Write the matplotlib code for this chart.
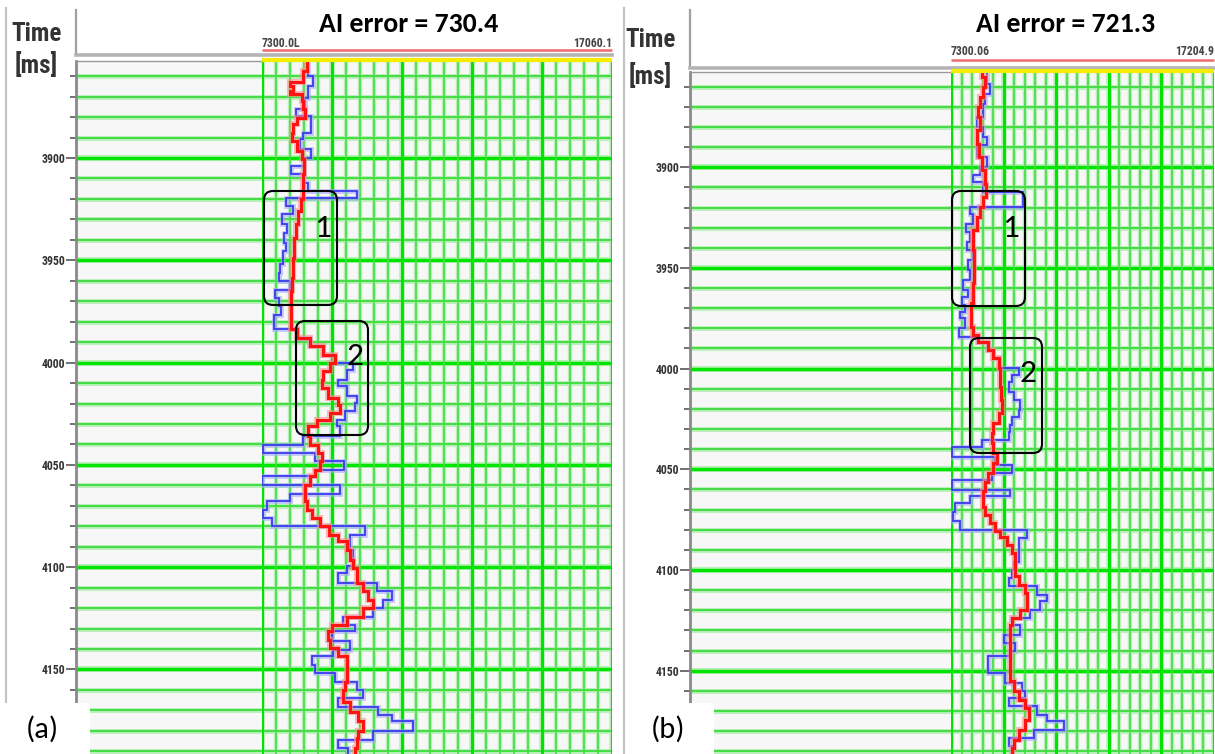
import matplotlib
matplotlib.use("Agg")
import matplotlib.pyplot as plt
from matplotlib import font_manager
from matplotlib.patches import FancyBboxPatch, Rectangle
import numpy as np

# ---------------------------------------------------------------- data
time_major = [3900, 3950, 4000, 4050, 4100, 4150]
time_minor = list(range(3860, 4200, 10))

titles = ["AI error = 730.4", "AI error = 721.3"]
tags = ["(a)", "(b)"]
zone_names = ["1", "2"]
ai_min = [7300.0, 7300.06]
ai_max = [17060.1, 17204.9]
ai_min_text = ["7300.0L", "7300.06"]
ai_max_text = ["17060.1", "17204.9"]

# measured impedance log (blocked), panel (a): layer edges [ms] and AI per layer
log_a_edges = [3852.6, 3859.9, 3864.8, 3870.5, 3876.2, 3879.4, 3887.6, 3890.9, 3895.8, 3899.8,
               3903.9, 3908.0, 3912.1, 3916.1, 3919.4, 3923.5, 3927.6, 3932.5, 3936.5, 3941.4,
               3945.5, 3952.0, 3956.1, 3960.2, 3964.3, 3968.3, 3972.4, 3976.5, 3983.8, 3987.9,
               3992.0, 3996.1, 4000.1, 4003.4, 4008.3, 4011.5, 4016.4, 4019.7, 4023.8, 4027.9,
               4031.1, 4036.0, 4040.1, 4044.2, 4048.2, 4052.3, 4055.6, 4059.7, 4064.2, 4067.8,
               4071.9, 4076.0, 4080.0, 4084.1, 4091.5, 4099.6, 4102.9, 4107.8, 4111.8, 4115.9,
               4120.0, 4124.1, 4128.2, 4131.4, 4136.3, 4140.4, 4143.6, 4147.7, 4151.8, 4155.9,
               4160.0, 4164.0, 4168.1, 4172.2, 4175.4, 4180.3, 4184.4, 4188.5, 4192.0]
log_a_ai = [8573, 8731, 8592, 8499, 8248, 8657, 8453, 8360, 8657, 8471,
            8099, 8471, 8592, 9958, 7960, 8155, 7848, 8006, 7913, 7969,
            7895, 7802, 7774, 8081, 7662, 7774, 7820, 7635, 8267, 8638,
            9010, 9336, 9847, 9661, 9428, 9661, 9958, 9893, 9615, 9382,
            9475, 8453, 7337, 8778, 9587, 8778, 7310, 9475, 8081, 7430,
            7337, 7570, 10172, 9754, 9847, 9661, 9428, 10497, 10916, 10683,
            10405, 9568, 9893, 9243, 9754, 9289, 8685, 8778, 9336, 9940,
            10126, 9428, 10544, 10916, 11520, 10405, 9428, 9707]

# inverted impedance, panel (a)
inv_a_edges = [3852.6, 3857.4, 3863.1, 3864.8, 3867.2, 3868.8, 3872.1, 3876.2, 3880.3, 3883.5,
               3887.6, 3891.7, 3896.6, 3900.7, 3908.0, 3916.1, 3920.2, 3925.9, 3932.5, 3939.0,
               3948.8, 3958.5, 3965.1, 3983.8, 3987.9, 3992.0, 3996.1, 4000.1, 4004.2, 4008.3,
               4012.4, 4017.3, 4020.5, 4024.6, 4027.9, 4031.1, 4036.0, 4040.1, 4044.2, 4048.2,
               4052.3, 4055.6, 4059.7, 4067.8, 4071.9, 4076.0, 4080.0, 4084.1, 4087.4, 4091.5,
               4096.3, 4100.4, 4107.8, 4111.8, 4115.9, 4120.0, 4124.1, 4128.2, 4131.4, 4135.5,
               4139.6, 4143.6, 4155.9, 4160.0, 4165.7, 4170.6, 4175.4, 4180.3, 4183.6, 4188.5,
               4192.0]
inv_a_ai = [8545, 8434, 8081, 8155, 8081, 8406, 8453, 8499, 8267, 8174,
            8127, 8267, 8406, 8471, 8453, 8434, 8378, 8313, 8248, 8202,
            8155, 8127, 8099, 8267, 8638, 9010, 9336, 9196, 9010, 8964,
            9150, 9428, 9475, 9196, 8824, 8592, 8638, 8871, 8964, 8917,
            8778, 8638, 8499, 8545, 8685, 8917, 9177, 9428, 9661, 9754,
            9847, 9940, 10126, 10265, 10405, 10126, 9661, 9243, 9150, 9196,
            9428, 9661, 9614, 9568, 9754, 9986, 10126, 9986, 9940, 9893]

# measured impedance log (blocked), panel (b)
log_b_edges = [3852.7, 3858.5, 3863.5, 3868.4, 3875.0, 3880.0, 3884.9, 3889.1, 3894.9, 3899.8,
               3904.0, 3907.3, 3912.2, 3919.7, 3923.0, 3928.0, 3932.1, 3937.0, 3941.2, 3946.1,
               3951.1, 3956.0, 3961.0, 3964.3, 3968.4, 3972.0, 3975.1, 3980.0, 3984.2, 3986.6,
               3990.8, 3994.9, 3999.9, 4003.2, 4006.5, 4011.4, 4015.6, 4020.5, 4023.8, 4028.0,
               4031.3, 4035.4, 4038.7, 4043.7, 4047.8, 4052.0, 4055.3, 4060.2, 4063.5, 4066.8,
               4071.0, 4075.9, 4080.1, 4084.2, 4095.8, 4099.9, 4104.0, 4108.2, 4112.3, 4115.6,
               4119.7, 4123.9, 4127.2, 4132.1, 4136.3, 4140.4, 4142.9, 4151.2, 4156.1, 4160.3,
               4163.6, 4167.7, 4171.8, 4175.1, 4179.3, 4183.4, 4187.5, 4192.0]
log_b_ai = [8648, 8774, 8585, 8497, 8270, 8497, 8648, 8270, 8648, 8396,
            8144, 8522, 10009, 8018, 8144, 7867, 8018, 7892, 8119, 7955,
            8018, 7766, 7955, 7703, 7829, 7640, 7829, 7615, 8333, 8711,
            8900, 9089, 9845, 9593, 9467, 9656, 9908, 9845, 9593, 9530,
            9467, 8459, 7325, 8963, 9593, 8837, 7325, 9530, 8018, 7451,
            7388, 7640, 10160, 9845, 9656, 9593, 9467, 10538, 10916, 10664,
            10286, 9593, 9908, 9278, 9719, 9530, 8711, 9341, 9971, 10097,
            9467, 10538, 10916, 11546, 10412, 9467, 9593]

# inverted impedance, panel (b)
inv_b_edges = [3852.7, 3855.2, 3860.2, 3865.1, 3870.1, 3875.0, 3881.6, 3888.3, 3894.9, 3901.5,
               3908.1, 3914.7, 3919.7, 3924.6, 3931.2, 3941.2, 3957.7, 3967.6, 3979.2, 3983.3,
               3986.6, 3990.8, 3994.9, 3999.9, 4009.0, 4015.6, 4022.2, 4027.2, 4032.1, 4037.1,
               4042.0, 4047.0, 4052.0, 4056.1, 4061.0, 4068.5, 4072.5, 4076.5, 4080.5, 4083.4,
               4087.5, 4091.6, 4103.2, 4107.3, 4111.5, 4119.7, 4123.9, 4127.2, 4133.0, 4141.2,
               4151.2, 4155.3, 4160.3, 4164.4, 4168.5, 4174.3, 4179.3, 4184.2, 4188.4, 4192.0]
inv_b_ai = [8459, 8585, 8522, 8396, 8333, 8396, 8270, 8371, 8459, 8585,
            8623, 8522, 8396, 8270, 8144, 8169, 8119, 8043, 8144, 8333,
            8711, 8900, 9089, 9127, 9190, 9215, 9089, 8900, 8837, 8900,
            9026, 8900, 8711, 8585, 8522, 8585, 8774, 8963, 9152, 9404,
            9593, 9719, 9845, 10097, 10160, 9908, 9593, 9505, 9530, 9505,
            9530, 9656, 9845, 10097, 10223, 10097, 9845, 9656, 9593]

# ---------------------------------------------------------------- fonts
available = {f.name for f in font_manager.fontManager.ttflist}
NARROW = next((n for n in ["Liberation Sans Narrow", "Roboto Condensed"] if n in available),
              "DejaVu Sans")
HUMAN = next((n for n in ["Carlito", "Calibri", "Lato", "Open Sans"] if n in available),
             "DejaVu Sans")

# ---------------------------------------------------------------- layout (pixels)
W, H = 1215, 754
BG = "#f7f7f7"

panels = [
    dict(outer_x=6, spine_x=76, x0=262, x1=612, top=61, header_y=55, red_y=50,
         range_y=47, yellow_y=60, t_top=3852.6, t_bot=4191.3,
         title_xy=(409, 32), time_xy=(37, 41), ms_xy=(36, 73),
         tag_rect=(0, 703, 90, 51), tag_xy=(42, 738),
         boxes=[(264, 191, 73, 114), (296, 321, 72, 114)],
         box_text=[(323, 237), (355, 365)]),
    dict(outer_x=624, spine_x=690, x0=951, x1=1214, top=72, header_y=67.5, red_y=60,
         range_y=55, yellow_y=71, t_top=3852.7, t_bot=4191.4,
         title_xy=(1066, 32), time_xy=(651, 47), ms_xy=(650, 84),
         tag_rect=(626, 703, 88, 51), tag_xy=(668, 738),
         boxes=[(952, 191, 73, 115), (970, 338, 72, 115)],
         box_text=[(1011, 237), (1028, 382)]),
]
series = [(log_a_edges, log_a_ai, inv_a_edges, inv_a_ai),
          (log_b_edges, log_b_ai, inv_b_edges, inv_b_ai)]

fig = plt.figure(figsize=(W / 100, H / 100), dpi=100)
fig.patch.set_facecolor("white")


def px_axes(x0, y0, x1, y1):
    return fig.add_axes([x0 / W, 1 - y1 / H, (x1 - x0) / W, (y1 - y0) / H])


def hgrid(ax, t):
    major = t % 50 == 0
    ax.axhline(t, color="#b2efb2", lw=4.2 if major else 3.4, zorder=1)
    ax.axhline(t, color="#00e400" if major else "#3ddc3d", lw=2.4 if major else 1.3, zorder=1.2)


def vgrid(ax, a, major):
    ax.axvline(a, color="#b8f0b8", lw=4.0 if major else 3.2, zorder=1)
    ax.axvline(a, color="#00e400" if major else "#45dc45", lw=2.2 if major else 1.2, zorder=1.2)


for i, (p, (le, la, ie, ia)) in enumerate(zip(panels, series)):
    # time column
    axg = px_axes(p["spine_x"], p["top"], p["x0"], H)
    axg.set_facecolor(BG)
    axg.set_xlim(0, 1)
    axg.set_ylim(p["t_bot"], p["t_top"])
    axg.set_xticks([])
    axg.set_yticks(time_major)
    axg.set_yticks(time_minor, minor=True)
    axg.tick_params(axis="y", which="major", length=7, width=1.3, color="#666",
                    labelsize=8.5, labelcolor="#333", pad=1)
    axg.tick_params(axis="y", which="minor", length=4, width=1.3, color="#666")
    for lab in axg.get_yticklabels():
        lab.set_fontfamily(NARROW)
        lab.set_fontweight("bold")
        lab.set_fontstretch("condensed")
    for side in ("right", "bottom"):
        axg.spines[side].set_visible(False)
    axg.spines["left"].set_color("#8a8a8a")
    axg.spines["left"].set_linewidth(2.0)
    axg.spines["top"].set_color("#9a9a9a")
    axg.spines["top"].set_linewidth(1.0)
    for t in time_minor:
        hgrid(axg, t)

    # impedance track
    axt = px_axes(p["x0"], p["top"], p["x1"], H)
    axt.set_facecolor(BG)
    axt.set_xlim(ai_min[i], ai_max[i])
    axt.set_ylim(p["t_bot"], p["t_top"])
    axt.set_xticks([])
    axt.set_yticks([])
    for s in axt.spines.values():
        s.set_visible(False)
    for t in time_minor:
        hgrid(axt, t)
    for k, a in enumerate(np.linspace(ai_min[i], ai_max[i], 26)):
        vgrid(axt, a, k % 5 == 0)

    axt.stairs(la, le, orientation="horizontal", baseline=None,
               color="#a9a9ff", lw=3.4, alpha=0.65, zorder=3)
    axt.stairs(la, le, orientation="horizontal", baseline=None,
               color="#3b3bef", lw=1.3, zorder=3.2)
    axt.stairs(ia, ie, orientation="horizontal", baseline=None,
               color="#ff8f8f", lw=4.4, alpha=0.6, zorder=4)
    axt.stairs(ia, ie, orientation="horizontal", baseline=None,
               color="#ff1212", lw=2.2, zorder=4.2)

# ---------------------------------------------------------------- annotation layer
ov = fig.add_axes([0, 0, 1, 1])
ov.set_xlim(0, W)
ov.set_ylim(H, 0)
ov.axis("off")
ov.patch.set_visible(False)

for i, p in enumerate(panels):
    ov.plot([p["outer_x"]] * 2, [8, H], color="#c4c4c4", lw=1.6)
    ov.plot([p["spine_x"]] * 2, [10, p["header_y"]], color="#a0a0a0", lw=1.6)
    ov.plot([p["spine_x"], p["x1"]], [p["header_y"]] * 2, color="#b4b4b4", lw=2.6)
    ov.plot([p["x0"], p["x1"]], [p["red_y"]] * 2, color="#f06a6a", lw=1.8,
            solid_capstyle="butt")
    ov.plot([p["x0"], p["x1"]], [p["yellow_y"]] * 2, color="#f6ee00", lw=3.0,
            solid_capstyle="butt")
    ov.text(p["x0"], p["range_y"], ai_min_text[i], ha="left", va="baseline",
            fontsize=8.5, family=NARROW, fontweight="bold", fontstretch="condensed",
            color="#444")
    ov.text(p["x1"], p["range_y"], ai_max_text[i], ha="right", va="baseline",
            fontsize=8.5, family=NARROW, fontweight="bold", fontstretch="condensed",
            color="#444")

    ov.text(*p["title_xy"], titles[i], ha="center", va="baseline", fontsize=20,
            fontweight="bold", family=HUMAN, color="black")
    ov.text(*p["time_xy"], "Time", ha="center", va="baseline", fontsize=18,
            family=NARROW, fontweight="semibold", fontstretch="condensed", color="#333")
    ov.text(*p["ms_xy"], "[ms]", ha="center", va="baseline", fontsize=18,
            family=NARROW, fontweight="semibold", fontstretch="condensed", color="#333")

    for (bx, by, bw, bh), (tx, ty), name in zip(p["boxes"], p["box_text"], zone_names):
        ov.add_patch(FancyBboxPatch((bx, by), bw, bh,
                                    boxstyle="round,pad=0,rounding_size=9",
                                    fc="none", ec="black", lw=1.5, zorder=6))
        ov.text(tx, ty, name, ha="center", va="baseline", fontsize=24,
                family=HUMAN, color="black", zorder=6)

    rx, ry, rw, rh = p["tag_rect"]
    ov.add_patch(Rectangle((rx, ry), rw, rh, fc="white", ec="none", zorder=5))
    ov.text(*p["tag_xy"], tags[i], ha="center", va="baseline", fontsize=22,
            family=HUMAN, color="black", zorder=6)

fig.savefig("out.png", dpi=100, facecolor="white")
